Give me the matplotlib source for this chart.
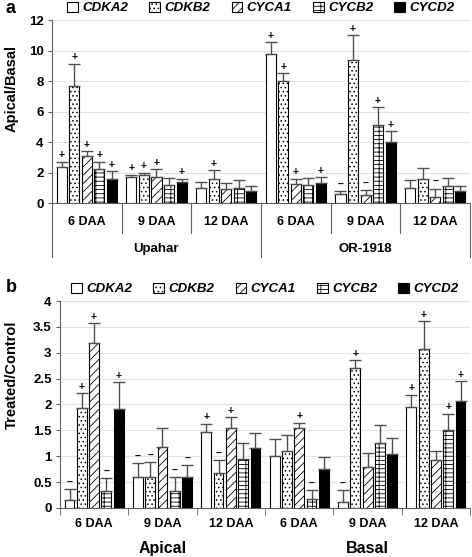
import matplotlib
matplotlib.use("Agg")
import matplotlib.pyplot as plt
from matplotlib.patches import Patch
from matplotlib.transforms import blended_transform_factory

plt.rcParams["font.family"] = ["Liberation Sans", "DejaVu Sans"]
plt.rcParams["font.weight"] = "bold"
plt.rcParams["axes.labelweight"] = "bold"
plt.rcParams["hatch.linewidth"] = 0.6

genes = ["CDKA2", "CDKB2", "CYCA1", "CYCB2", "CYCD2"]
days = ["6 DAA", "9 DAA", "12 DAA", "6 DAA", "9 DAA", "12 DAA"]
a_groups = ["Upahar", "OR-1918"]
b_groups = ["Apical", "Basal"]

# panel a: Apical/Basal
a_cdka2 = [2.35, 1.7, 1.0, 9.75, 0.6, 1.0]
a_cdkb2 = [7.65, 1.85, 1.6, 8.0, 9.4, 1.6]
a_cyca1 = [3.1, 1.7, 0.9, 1.25, 0.55, 0.4]
a_cycb2 = [2.2, 1.2, 1.0, 1.15, 5.1, 1.1]
a_cycd2 = [1.6, 1.4, 0.8, 1.3, 4.0, 0.8]
a_cdka2_err = [0.35, 0.15, 0.35, 0.8, 0.2, 0.5]
a_cdkb2_err = [1.5, 0.15, 0.55, 0.5, 1.6, 0.7]
a_cyca1_err = [0.3, 0.5, 0.4, 0.35, 0.3, 0.55]
a_cycb2_err = [0.5, 0.45, 0.5, 0.5, 1.2, 0.55]
a_cycd2_err = [0.5, 0.2, 0.3, 0.4, 0.7, 0.3]
a_cdka2_sig = ["+", "+", "", "+", "-", ""]
a_cdkb2_sig = ["+", "+", "+", "+", "+", ""]
a_cyca1_sig = ["+", "+", "", "+", "-", "-"]
a_cycb2_sig = ["+", "", "", "", "+", ""]
a_cycd2_sig = ["+", "+", "", "+", "+", ""]

# panel b: Treated/Control
b_cdka2 = [0.15, 0.6, 1.47, 1.0, 0.12, 1.96]
b_cdkb2 = [1.93, 0.6, 0.67, 1.11, 2.7, 3.08]
b_cyca1 = [3.18, 1.17, 1.55, 1.55, 0.8, 0.93]
b_cycb2 = [0.32, 0.33, 0.95, 0.18, 1.25, 1.5]
b_cycd2 = [1.92, 0.59, 1.15, 0.76, 1.05, 2.06]
b_cdka2_err = [0.22, 0.27, 0.16, 0.34, 0.23, 0.23]
b_cdkb2_err = [0.29, 0.28, 0.26, 0.31, 0.16, 0.53]
b_cyca1_err = [0.39, 0.38, 0.2, 0.1, 0.26, 0.17]
b_cycb2_err = [0.26, 0.27, 0.3, 0.17, 0.35, 0.32]
b_cycd2_err = [0.51, 0.24, 0.29, 0.22, 0.31, 0.39]
b_cdka2_sig = ["-", "-", "+", "", "-", "+"]
b_cdkb2_sig = ["+", "-", "-", "", "+", "+"]
b_cyca1_sig = ["+", "", "+", "+", "", ""]
b_cycb2_sig = ["-", "-", "", "-", "", "+"]
b_cycd2_sig = ["+", "-", "", "", "", "+"]

STYLES = [
    dict(facecolor="white", hatch=None),
    dict(facecolor="white", hatch="...."),
    dict(facecolor="white", hatch="////"),
    dict(facecolor="white", hatch="----||"),
    dict(facecolor="black", hatch=None),
]
ERR = "#505050"
PITCH = 0.18
WIDTH = 0.145


def draw_bars(ax, vals, errs, sigs):
    for k, (v, e, s) in enumerate(zip(vals, errs, sigs)):
        xs = [i + (k - 2) * PITCH for i in range(len(v))]
        ax.bar(xs, v, width=WIDTH, edgecolor="black", linewidth=0.8, zorder=3, **STYLES[k])
        ax.errorbar(xs, v, yerr=[[0] * len(e), e], fmt="none", ecolor=ERR,
                    elinewidth=1.0, capsize=4, capthick=1.0, zorder=4)
        for x, top, err, mark in zip(xs, v, e, s):
            if mark:
                ax.annotate("+" if mark == "+" else "\u2013", (x, top + err),
                            xytext=(0, 1), textcoords="offset points",
                            ha="center", va="bottom", fontsize=7.5, fontweight="bold")


def style_axis(ax, ymax, step):
    ax.set_xlim(-0.5, 5.5)
    ax.set_ylim(0, ymax)
    ticks = [step * i for i in range(int(round(ymax / step)) + 1)]
    ax.set_yticks(ticks, [f"{t:g}" for t in ticks], fontweight="bold")
    ax.grid(True, axis="y", color="#e4e4e4", linewidth=0.8)
    ax.set_axisbelow(True)
    ax.spines[["top", "right"]].set_visible(False)
    ax.spines["left"].set_color("#606060")
    ax.spines["bottom"].set_color("#606060")
    ax.tick_params(axis="y", length=3, color="#606060", labelsize=9.5, pad=3)
    ax.set_xticks([])


def legend(ax, y):
    handles = [Patch(edgecolor="black", linewidth=0.8, **st) for st in STYLES]
    ax.legend(handles, genes, loc="center", bbox_to_anchor=(0.5, y), ncol=5,
              frameon=False, handlelength=0.8, handleheight=0.8, handletextpad=0.35,
              columnspacing=1.6, borderaxespad=0,
              prop={"style": "italic", "weight": "bold", "size": 9.5})


fig = plt.figure(figsize=(4.72, 5.57), dpi=100)

# ---- panel a
ax = fig.add_axes([0.110, 0.6355, 0.886, 0.3285])
draw_bars(ax, [a_cdka2, a_cdkb2, a_cyca1, a_cycb2, a_cycd2],
          [a_cdka2_err, a_cdkb2_err, a_cyca1_err, a_cycb2_err, a_cycd2_err],
          [a_cdka2_sig, a_cdkb2_sig, a_cyca1_sig, a_cycb2_sig, a_cycd2_sig])
style_axis(ax, 12, 2)
tr = blended_transform_factory(ax.transData, ax.transAxes)
for i, d in enumerate(days):
    ax.text(i, -0.104, d, transform=tr, ha="center", va="center", fontsize=9)
for g, name in enumerate(a_groups):
    ax.text(g * 3 + 1, -0.252, name, transform=tr, ha="center", va="center", fontsize=9.5)
for b in range(7):
    low = -0.295 if b % 3 == 0 else -0.164
    ax.plot([b - 0.5, b - 0.5], [0, low], transform=tr, color="#606060",
            linewidth=0.8, clip_on=False)
ax.set_ylabel("Apical/Basal", fontsize=10.5)
ax.yaxis.set_label_coords(-0.079, 0.628)
legend(ax, 1.066)
fig.text(0.012, 0.985, "a", fontsize=13, fontweight="bold", va="center")

# ---- panel b
ax = fig.add_axes([0.127, 0.088, 0.869, 0.3716])
draw_bars(ax, [b_cdka2, b_cdkb2, b_cyca1, b_cycb2, b_cycd2],
          [b_cdka2_err, b_cdkb2_err, b_cyca1_err, b_cycb2_err, b_cycd2_err],
          [b_cdka2_sig, b_cdkb2_sig, b_cyca1_sig, b_cycb2_sig, b_cycd2_sig])
style_axis(ax, 4, 0.5)
ax.set_xticks([b - 0.5 for b in range(7)], minor=True)
ax.tick_params(axis="x", which="minor", length=5, color="#606060")
tr = blended_transform_factory(ax.transData, ax.transAxes)
for i, d in enumerate(days):
    ax.text(i, -0.077, d, transform=tr, ha="center", va="center", fontsize=9)
for g, name in enumerate(b_groups):
    ax.text(g * 3 + 1, -0.195, name, transform=tr, ha="center", va="center", fontsize=11.5)
ax.set_ylabel("Treated/Control", fontsize=10.5)
ax.yaxis.set_label_coords(-0.100, 0.643)
legend(ax, 1.058)
fig.text(0.012, 0.483, "b", fontsize=13, fontweight="bold", va="center")

fig.savefig("out.png", dpi=100, facecolor="white")
